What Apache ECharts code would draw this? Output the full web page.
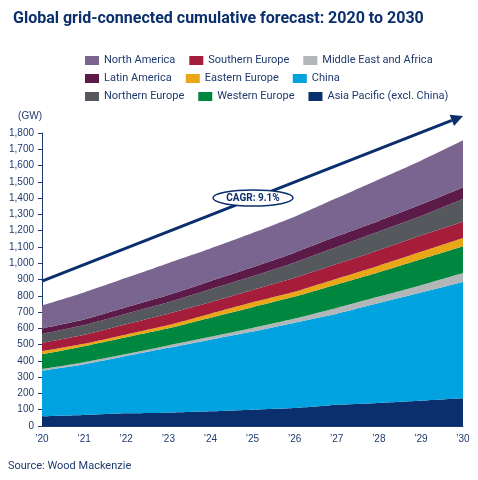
<!DOCTYPE html><html><head><meta charset="utf-8"><script src="https://cdn.jsdelivr.net/npm/echarts@6/dist/echarts.min.js"></script></head><body style="margin:0"><div id="c" style="width:478px;height:480px"></div><script>
const years=['’20','’21','’22','’23','’24','’25','’26','’27','’28','’29','’30'];
const asiaPacific=[60,68,78,82,90,100,110,130,142,155,170];
const china=[280,312,352,398,440,480,525,560,613,665,715];
const mea=[10,12,12,15,18,22,25,35,40,45,55];
const westernEurope=[90,98,103,105,117,128,135,145,150,160,165];
const easternEurope=[20,15,17,20,25,30,30,35,40,45,50];
const southernEurope=[50,55,63,70,70,75,85,90,95,100,100];
const northernEurope=[55,60,65,70,80,85,95,105,115,120,140];
const latinAmerica=[35,35,40,45,50,55,60,65,65,70,70];
const northAmerica=[140,165,180,195,200,210,220,235,255,270,290];
const arrowStart=890, arrowEnd=1905;
const S=[['Asia Pacific (excl. China)',asiaPacific,'#0b2f6d'],['China',china,'#00a3e0'],['Middle East and Africa',mea,'#b3b6b9'],['Western Europe',westernEurope,'#00873f'],['Eastern Europe',easternEurope,'#e9a718'],['Southern Europe',southernEurope,'#a51d3b'],['Northern Europe',northernEurope,'#55595d'],['Latin America',latinAmerica,'#5b1a48'],['North America',northAmerica,'#79658f']];
const rows=[['North America','Southern Europe','Middle East and Africa'],['Latin America','Eastern Europe','China'],['Northern Europe','Western Europe','Asia Pacific (excl. China)']];
const C='#1f3a6e';
const series=S.map(([n,d,c],i)=>({name:n,type:'line',stack:'a',data:d,symbol:'none',smooth:0.2,lineStyle:{width:0},areaStyle:{color:c,opacity:1},itemStyle:{color:c},z:2}));
const ch=echarts.init(document.getElementById('c'));
ch.setOption({
title:{text:'Global grid-connected cumulative forecast: 2020 to 2030',left:8,top:6,textStyle:{color:'#0b2f6d',fontSize:16,fontWeight:'bold',fontFamily:'Roboto'}},
legend:rows.map((r,i)=>({data:r,top:50+i*18,left:80,itemWidth:14,itemHeight:9,icon:'rect',itemGap:14,textStyle:{color:C,fontSize:11,width:84,fontFamily:'Roboto'}})),
grid:{left:42,right:15,top:133,bottom:54},
xAxis:{type:'category',data:years,boundaryGap:false,axisLine:{lineStyle:{color:C}},axisTick:{show:false},axisLabel:{color:C,fontSize:10}},
yAxis:{type:'value',min:0,max:1800,interval:100,name:'(GW)',nameLocation:'end',nameGap:12,nameTextStyle:{color:C,fontSize:10,align:'right'},splitLine:{show:false},axisLine:{show:true,lineStyle:{color:C}},axisTick:{show:true,length:4},axisLabel:{color:C,fontSize:10,formatter:v=>v.toLocaleString('en-US')}},
series});
const p0=ch.convertToPixel({gridIndex:0},[years[0],arrowStart]);
const p1=ch.convertToPixel({gridIndex:0},[years[10],arrowEnd]);
const ang=Math.atan2(p1[1]-p0[1],p1[0]-p0[0]);
const L=12,W=6;
const b=[p1[0]-L*Math.cos(ang),p1[1]-L*Math.sin(ang)];
const head=[p1,[b[0]+W*Math.sin(ang),b[1]-W*Math.cos(ang)],[b[0]-W*Math.sin(ang),b[1]+W*Math.cos(ang)]];
ch.setOption({graphic:[
{type:'line',shape:{x1:p0[0],y1:p0[1],x2:b[0],y2:b[1]},style:{stroke:'#0b2f6d',lineWidth:3},z:99},
{type:'polygon',shape:{points:head},style:{fill:'#0b2f6d'},z:99},
{type:'ellipse',shape:{cx:253,cy:198,rx:40,ry:8},style:{fill:'#fff',stroke:'#0b2f6d',lineWidth:1.5},z:100},{type:'text',x:253,y:198,style:{text:'CAGR: 9.1%',fill:'#0b2f6d',font:'bold 10px Roboto',align:'center',verticalAlign:'middle'},z:101},{type:'text',left:8,top:461,style:{text:'Source: Wood Mackenzie',fill:C,font:'11px Roboto'}}]});
</script></body></html>
